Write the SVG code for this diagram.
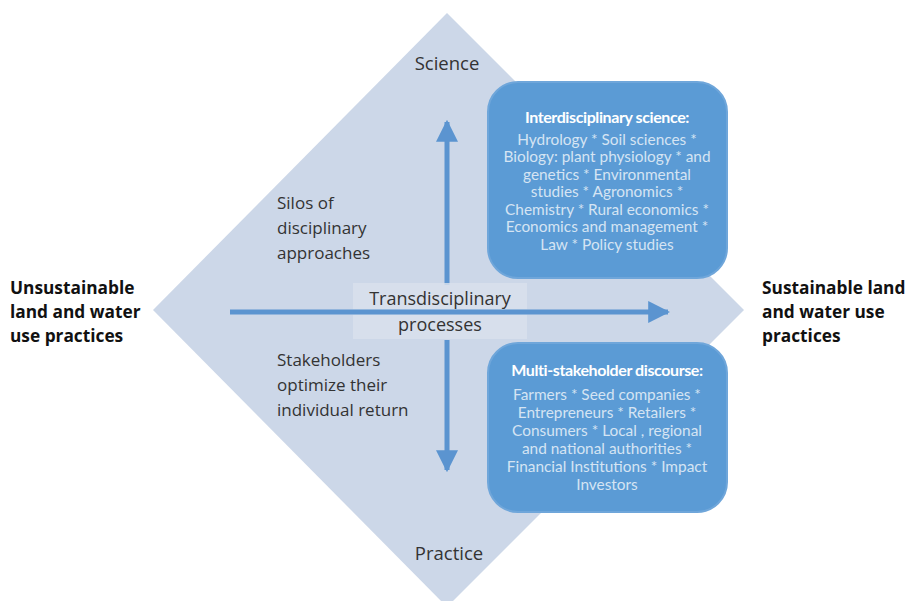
<svg xmlns="http://www.w3.org/2000/svg" width="909" height="601" viewBox="0 0 909 601">
<defs>
<style>
.side{font-family:"Open Sans","Liberation Sans",sans-serif;font-size:17.3px;font-weight:bold;fill:#111}
.lbl{font-family:"Open Sans","Liberation Sans",sans-serif;font-size:17px;fill:#333}
.big{font-family:"Open Sans","Liberation Sans",sans-serif;font-size:18.5px;fill:#333;text-anchor:middle}
.box{fill:#5b9bd5;stroke:#6fa6da;stroke-width:2}
.bt{font-family:Lato,"Open Sans",sans-serif;font-size:16px;font-weight:bold;fill:#ffffff;text-anchor:middle;letter-spacing:-0.4px}
.bx{font-family:Lato,"Open Sans",sans-serif;font-size:15.4px;fill:#d5e4f3;text-anchor:middle}
.arr{stroke:#5b94d0;stroke-width:5;fill:none}
</style>
<marker id="ah" viewBox="0 0 10 10" refX="9" refY="5" markerWidth="4.4" markerHeight="4.4" orient="auto" markerUnits="strokeWidth">
<path d="M0,0 L10,5 L0,10 z" fill="#5b94d0"/>
</marker>
</defs>
<rect width="909" height="601" fill="#ffffff"/>
<g id="diamond">
<polygon points="447,13 744,310 447,607 153,310" fill="#ccd7e8"/>
</g>
<g id="connectors">
<line class="arr" x1="230" y1="312" x2="668" y2="312" marker-end="url(#ah)"/>
<line class="arr" x1="447" y1="285" x2="447" y2="122" marker-end="url(#ah)"/>
<line class="arr" x1="447" y1="340" x2="447" y2="470" marker-end="url(#ah)"/>
</g>
<g id="transdisciplinary">
<rect x="353" y="283" width="174" height="56" fill="#d8e0ec" opacity="0.85"/>
<line class="arr" x1="353" y1="312" x2="527" y2="312"/>
<text class="big" x="440" y="305" style="font-size:18px">Transdisciplinary</text>
<text class="big" x="440" y="331" style="font-size:18px">processes</text>
</g>
<g id="science"><text class="big" x="447" y="70">Science</text></g>
<g id="practice"><text class="big" x="449" y="560">Practice</text></g>
<g id="silos">
<text class="lbl" x="277" y="209">Silos of</text>
<text class="lbl" x="277" y="234">disciplinary</text>
<text class="lbl" x="277" y="259">approaches</text>
</g>
<g id="stakeholders">
<text class="lbl" x="277" y="366">Stakeholders</text>
<text class="lbl" x="277" y="391">optimize their</text>
<text class="lbl" x="277" y="416">individual return</text>
</g>
<g id="unsustainable">
<text class="side" x="10" y="294">Unsustainable</text>
<text class="side" x="10" y="318">land and water</text>
<text class="side" x="10" y="342">use practices</text>
</g>
<g id="sustainable">
<text class="side" x="762" y="294">Sustainable land</text>
<text class="side" x="762" y="318">and water use</text>
<text class="side" x="762" y="342">practices</text>
</g>
<g id="interdisciplinary">
<rect class="box" x="488" y="82" width="239" height="196" rx="30"/>
<text class="bt" x="607" y="123">Interdisciplinary science:</text>
<text class="bx" x="607" y="145">Hydrology * Soil sciences *</text>
<text class="bx" x="607" y="162">Biology: plant physiology * and</text>
<text class="bx" x="607" y="180">genetics * Environmental</text>
<text class="bx" x="607" y="197">studies * Agronomics *</text>
<text class="bx" x="607" y="215">Chemistry * Rural economics *</text>
<text class="bx" x="607" y="232">Economics and management *</text>
<text class="bx" x="607" y="250">Law * Policy studies</text>
</g>
<g id="multistakeholder">
<rect class="box" x="488" y="343" width="239" height="169" rx="30"/>
<text class="bt" x="607" y="376">Multi-stakeholder discourse:</text>
<text class="bx" x="607" y="400">Farmers * Seed companies *</text>
<text class="bx" x="607" y="418">Entrepreneurs * Retailers *</text>
<text class="bx" x="607" y="436">Consumers * Local , regional</text>
<text class="bx" x="607" y="454">and national authorities *</text>
<text class="bx" x="607" y="472">Financial Institutions * Impact</text>
<text class="bx" x="607" y="490">Investors</text>
</g>
</svg>
